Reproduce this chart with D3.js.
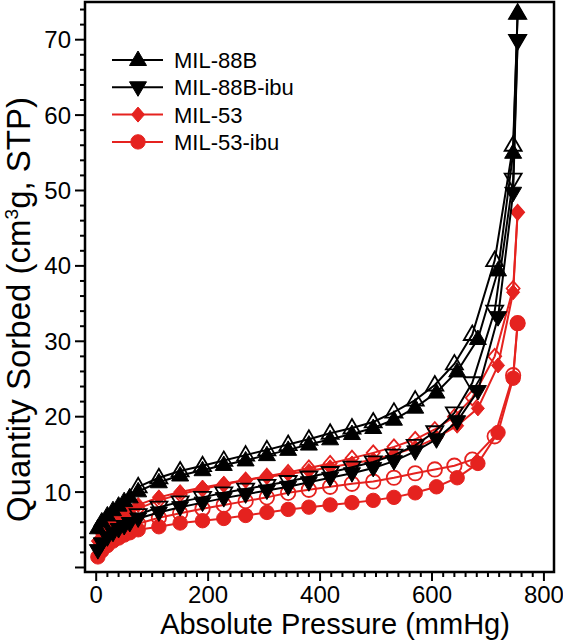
<!DOCTYPE html>
<html>
<head>
<meta charset="utf-8">
<script src="https://cdn.jsdelivr.net/npm/d3@7"></script>
<style>
html,body{margin:0;padding:0;background:#fff;}
svg{display:block;font-family:"Liberation Sans",Arial,Helvetica,sans-serif;}
</style>
</head>
<body>
<svg id="chart" width="563" height="640"></svg>
<script>
// ---- data ----
const seriesNames = ["MIL-88B", "MIL-88B-ibu", "MIL-53", "MIL-53-ibu"];
const pAds = [3, 10, 20, 30, 40, 50, 60, 75, 112, 150, 190, 228, 267, 305, 343, 380, 418, 457, 495, 532, 570, 608, 645, 682, 718, 745, 753];
const pDes = [753, 745, 712, 672, 640, 605, 570, 532, 495, 457, 418, 380, 343, 305, 267, 228, 190, 150, 112, 75];

const mil88bAds = [5.2, 6.1, 6.9, 7.6, 8.2, 8.8, 9.3, 10.1, 11.3, 12.2, 12.9, 13.6, 14.2, 14.9, 15.6, 16.3, 17.0, 17.7, 18.5, 19.6, 21.2, 23.2, 26.0, 30.3, 39.4, 55.0, 73.5];
const mil88bDes = [73.5, 56.0, 40.7, 30.9, 27.0, 24.2, 22.2, 20.6, 19.3, 18.5, 17.8, 17.0, 16.3, 15.6, 14.9, 14.2, 13.5, 12.8, 11.9, 10.7];

const mil88bIbuAds = [2.3, 3.2, 4.0, 4.6, 5.1, 5.5, 5.9, 6.5, 7.3, 8.0, 8.6, 9.2, 9.7, 10.2, 10.7, 11.3, 11.9, 12.5, 13.2, 14.1, 15.4, 17.0, 19.4, 23.4, 33.2, 49.7, 69.9];
const mil88bIbuDes = [69.9, 51.5, 34.0, 24.5, 20.5, 18.0, 16.2, 14.9, 14.0, 13.3, 12.6, 12.0, 11.4, 10.9, 10.4, 9.9, 9.3, 8.7, 8.0, 7.0];

const mil53Ads = [3.5, 4.5, 5.3, 6.0, 6.6, 7.1, 7.6, 8.3, 9.3, 10.0, 10.6, 11.1, 11.6, 12.0, 12.4, 12.8, 13.3, 13.8, 14.3, 15.0, 15.9, 17.2, 18.8, 21.1, 26.8, 36.5, 47.1];
const mil53Des = [47.1, 37.0, 28.0, 22.5, 20.0, 18.3, 17.0, 16.0, 15.2, 14.5, 13.8, 13.2, 12.6, 12.1, 11.6, 11.0, 10.4, 9.7, 8.9, 7.8];

const mil53IbuAds = [1.4, 2.2, 2.9, 3.5, 3.9, 4.3, 4.6, 5.0, 5.4, 5.9, 6.2, 6.5, 6.9, 7.3, 7.7, 8.0, 8.3, 8.6, 8.9, 9.3, 9.9, 10.7, 11.9, 13.8, 17.9, 25.1, 32.4];
const mil53IbuDes = [32.4, 25.5, 17.4, 14.3, 13.5, 13.0, 12.5, 11.9, 11.4, 11.1, 10.7, 10.3, 9.9, 9.3, 8.8, 8.3, 7.8, 7.2, 6.6, 5.8];

const xTicks = [0, 200, 400, 600, 800];
const yTicks = [10, 20, 30, 40, 50, 60, 70];

// ---- layout ----
const svg = d3.select("#chart");
const L = 85, R = 554, T = 2, B = 572;
const x = d3.scaleLinear().domain([-20, 818]).range([L, R]);
const y = d3.scaleLinear().domain([-0.6, 75]).range([B, T]);
const BLACK = "#000", RED = "#e5221f";

const shapes = {
  up: "M0,-9L8.5,5.5L-8.5,5.5Z",
  down: "M0,9L8.5,-5.5L-8.5,-5.5Z",
  diamond: "M0,-7.5L6.5,0L0,7.5L-6.5,0Z",
  circle: d3.symbol().type(d3.symbolCircle).size(Math.PI * 7.2 * 7.2)()
};

const series = [
  {name: "MIL-53", color: RED, shape: "diamond", ads: mil53Ads, des: mil53Des},
  {name: "MIL-53-ibu", color: RED, shape: "circle", ads: mil53IbuAds, des: mil53IbuDes},
  {name: "MIL-88B", color: BLACK, shape: "up", ads: mil88bAds, des: mil88bDes},
  {name: "MIL-88B-ibu", color: BLACK, shape: "down", ads: mil88bIbuAds, des: mil88bIbuDes}
];

const line = d3.line().x(d => x(d[0])).y(d => y(d[1]));
const plot = svg.append("g");

series.forEach(s => {
  const a = pAds.map((p, i) => [p, s.ads[i]]);
  const d = pDes.map((p, i) => [p, s.des[i]]);
  plot.append("path").attr("d", line(a)).attr("fill", "none").attr("stroke", s.color).attr("stroke-width", 2);
  plot.append("path").attr("d", line(d)).attr("fill", "none").attr("stroke", s.color).attr("stroke-width", 2);
  plot.selectAll(null).data(d).enter().append("path")
    .attr("d", shapes[s.shape])
    .attr("transform", v => `translate(${x(v[0])},${y(v[1])})`)
    .attr("fill", "none").attr("stroke", s.color).attr("stroke-width", 1.8);
  plot.selectAll(null).data(a).enter().append("path")
    .attr("d", shapes[s.shape])
    .attr("transform", v => `translate(${x(v[0])},${y(v[1])})`)
    .attr("fill", s.color).attr("stroke", s.color).attr("stroke-width", 1);
});

// ---- axes ----
const xMinor = d3.range(0, 801, 20);
const yMinor = d3.range(0, 75, 2);
const ax = svg.append("g");
ax.selectAll(null).data(xMinor).enter().append("line")
  .attr("x1", d => x(d)).attr("x2", d => x(d))
  .attr("y1", B).attr("y2", d => B + (d % 200 === 0 ? 9 : 5))
  .attr("stroke", "#000").attr("stroke-width", 2);
ax.selectAll(null).data(yMinor).enter().append("line")
  .attr("y1", d => y(d)).attr("y2", d => y(d))
  .attr("x1", L).attr("x2", d => L - (d % 10 === 0 ? 10 : 5))
  .attr("stroke", "#000").attr("stroke-width", 2);
ax.selectAll(null).data(xTicks).enter().append("text")
  .attr("x", d => x(d)).attr("y", 603)
  .attr("text-anchor", "middle").attr("font-size", 24).text(d => d);
ax.selectAll(null).data(yTicks).enter().append("text")
  .attr("x", 71).attr("y", d => y(d) + 8.5)
  .attr("text-anchor", "end").attr("font-size", 24).text(d => d);

svg.append("rect").attr("x", L).attr("y", T).attr("width", R - L).attr("height", B - T)
  .attr("fill", "none").attr("stroke", "#000").attr("stroke-width", 2.5);

svg.append("text").attr("x", 335).attr("y", 634).attr("text-anchor", "middle")
  .attr("font-size", 29).text("Absolute Pressure (mmHg)");
const yt = svg.append("text").attr("transform", "translate(30,97) rotate(-90)")
  .attr("text-anchor", "end").attr("font-size", 33);
yt.append("tspan").text("Quantity Sorbed (cm");
yt.append("tspan").attr("font-size", 19).attr("dy", -12).text("3");
yt.append("tspan").attr("dy", 12).text("g, STP)");

// ---- legend ----
const legendItems = [
  {name: "MIL-88B", color: BLACK, shape: "up"},
  {name: "MIL-88B-ibu", color: BLACK, shape: "down"},
  {name: "MIL-53", color: RED, shape: "diamond"},
  {name: "MIL-53-ibu", color: RED, shape: "circle"}
];
const lg = svg.append("g");
legendItems.forEach((it, i) => {
  const yy = 60 + i * 27.3;
  lg.append("line").attr("x1", 112).attr("x2", 163).attr("y1", yy).attr("y2", yy)
    .attr("stroke", it.color).attr("stroke-width", 2);
  lg.append("path").attr("d", shapes[it.shape]).attr("transform", `translate(138,${yy})`)
    .attr("fill", it.color).attr("stroke", it.color).attr("stroke-width", 1);
  lg.append("text").attr("x", 174).attr("y", yy + 8).attr("font-size", 22).text(it.name);
});
</script>
</body>
</html>
